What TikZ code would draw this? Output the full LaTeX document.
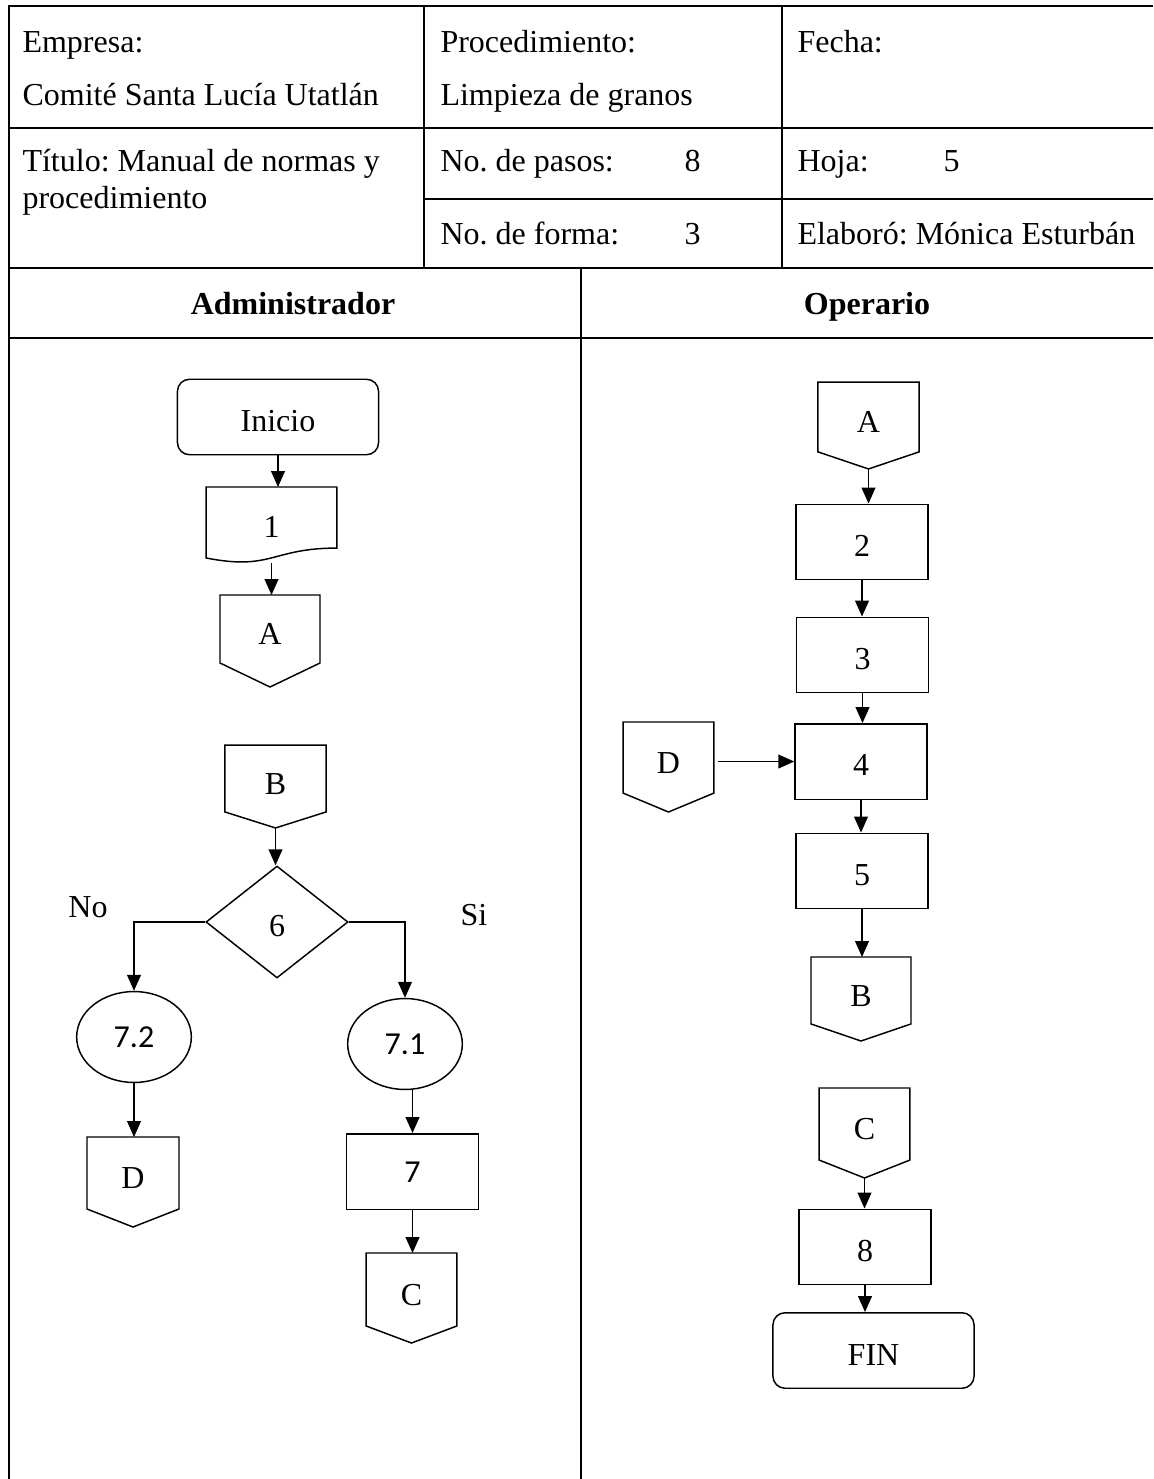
\documentclass[tikz,border=0pt]{standalone}
\usepackage{fontspec}
\setmainfont{Liberation Serif}
\newfontfamily\calibri{Carlito}
\usepackage{tikz}
\usetikzlibrary{arrows.meta,shapes.geometric}
\frenchspacing
\definecolor{pen}{RGB}{0,0,0}
\tikzset{
  txt/.style={font=\fontsize{12}{14}\selectfont, inner sep=0pt, text=pen},
  sanstxt/.style={font=\calibri\fontsize{12}{14}\selectfont},
  grid/.style={draw=pen, line width=0.8pt},
  startend/.style={draw=pen, rounded corners=4.5pt, minimum width=75.4pt,
    minimum height=28.3pt, inner sep=0pt, line width=0.55pt, txt,
    text height=11pt, text depth=0pt},
  procbox/.style={draw=pen, rectangle, minimum width=49.5pt, minimum height=28.3pt,
    inner sep=0pt, line width=0.55pt, txt, text height=10.5pt, text depth=0pt},
  decision/.style={draw=pen, diamond, minimum width=53.3pt, minimum height=42pt,
    inner sep=0pt, line width=0.55pt, txt, text height=11pt, text depth=0pt},
  oval/.style={draw=pen, ellipse, minimum width=43pt, minimum height=34.1pt,
    inner sep=0pt, line width=0.55pt, txt, sanstxt},
  docshape/.style={minimum width=49.1pt, minimum height=28.5pt, inner sep=0pt,
    outer sep=0pt, txt, text height=9.5pt, text depth=0pt,
    append after command={\pgfextra{\draw[draw=pen, line width=0.55pt]
      (\tikzlastnode.north west) -- (\tikzlastnode.north east)
      -- ([yshift=5.6pt]\tikzlastnode.south east)
      .. controls ([yshift=5.6pt]\tikzlastnode.south) and ([yshift=-3pt]\tikzlastnode.south)
      .. ([yshift=1.9pt]\tikzlastnode.south west) -- cycle;}}},
  offpage/.style n args={3}{minimum width=#1, minimum height=#2, inner sep=0pt,
    outer sep=0pt, txt, text height=11.75pt, text depth=#3,
    append after command={\pgfextra{\draw[draw=pen, line width=0.55pt, line join=miter]
      (\tikzlastnode.north west) -- (\tikzlastnode.north east)
      -- ([yshift=#3]\tikzlastnode.south east) -- (\tikzlastnode.south)
      -- ([yshift=#3]\tikzlastnode.south west) -- cycle;}}},
  flow/.style={-{Triangle[length=6pt,width=5.2pt]}, draw=pen, line width=0.55pt},
}

\begin{document}
\begin{tikzpicture}[x=0.375pt, y=-0.375pt]
  \useasboundingbox (0,0) rectangle (1153,1479);
  % table frame
  \draw[grid] (9,1479) -- (9,6) -- (1153,6);
  \draw[grid] (9,128) -- (1153,128);
  \draw[grid] (424,199) -- (1153,199);
  \draw[grid] (9,268) -- (1153,268);
  \draw[grid] (9,338) -- (1153,338);
  \draw[grid] (424,6) -- (424,268);
  \draw[grid] (782,6) -- (782,268);
  \draw[grid] (581,268) -- (581,1479);

  % header
  \node[txt, anchor=base west] (emp) at (22,53) {Empresa:};
  \node[txt, anchor=base west] (comite) at (22,106) {Comité Santa Lucía Utatlán};
  \node[txt, anchor=base west] (proc) at (440,53) {Procedimiento:};
  \node[txt, anchor=base west] (limp) at (440,106) {Limpieza de granos};
  \node[txt, anchor=base west] (fecha) at (797,53) {Fecha:};
  \node[txt, anchor=base west] (tit1) at (22,172) {Título: Manual de normas y};
  \node[txt, anchor=base west] (tit2) at (22,209) {procedimiento};
  \node[txt, anchor=base west] (pasos) at (440,172) {No. de pasos:};
  \node[txt, anchor=base west] (npasos) at (684,172) {8};
  \node[txt, anchor=base west] (hoja) at (797,172) {Hoja:};
  \node[txt, anchor=base west] (nhoja) at (943,172) {5};
  \node[txt, anchor=base west] (forma) at (440,245) {No. de forma:};
  \node[txt, anchor=base west] (nforma) at (684,245) {3};
  \node[txt, anchor=base west] (elab) at (797,245) {Elaboró: Mónica Esturbán};
  \node[txt, anchor=base, font=\fontsize{12}{14}\selectfont\bfseries] (admin) at (293,315) {Administrador};
  \node[txt, anchor=base, font=\fontsize{12}{14}\selectfont\bfseries] (oper) at (867,315) {Operario};

  % Administrador
  \node[startend] (ini) at (278,417) {Inicio};
  \node[docshape] (d1) at (271.5,525) {1};
  \node[offpage={37.5pt}{34.5pt}{9pt}] (conA1) at (270,641) {A};
  \node[offpage={37.9pt}{31.1pt}{6pt}] (conB1) at (275.5,786.5) {B};
  \node[decision] (q6) at (277,922) {6};
  \node[txt] (lno) at (88,907) {No};
  \node[txt] (lsi) at (474,915) {Si};
  \node[oval] (e72) at (134,1037) {7.2};
  \node[oval] (e71) at (405,1044) {7.1};
  \node[offpage={34.5pt}{33.75pt}{6.75pt}] (conD1) at (133,1182) {D};
  \node[procbox, sanstxt, text height=8pt] (p7) at (412.5,1171.5) {7};
  \node[offpage={34.1pt}{33.75pt}{6.4pt}] (conC1) at (411.5,1298) {C};

  % Operario
  \node[offpage={37.9pt}{32.6pt}{6.4pt}] (conA2) at (868.5,425.5) {A};
  \node[procbox] (p2) at (862,542) {2};
  \node[procbox] (p3) at (862.5,655) {3};
  \node[procbox] (p4) at (861,761.5) {4};
  \node[offpage={34.1pt}{33.75pt}{7.1pt}] (conD2) at (668.5,767) {D};
  \node[procbox] (p5) at (862,871) {5};
  \node[offpage={37.5pt}{31.5pt}{6.4pt}] (conB2) at (861,999) {B};
  \node[offpage={34.1pt}{33.75pt}{6.75pt}] (conC2) at (864.5,1133) {C};
  \node[procbox] (p8) at (865,1247) {8};
  \node[startend] (fin) at (873.5,1350.5) {FIN};

  \draw[flow] (ini.south) -- (ini.south |- d1.north);
  \draw[flow] (d1.south) -- (d1.south |- conA1.north);
  \draw[flow] (conB1.south) -- (conB1.south |- q6.north);
  \draw[flow] (q6.west) -| (e72.north);
  \draw[flow] (q6.east) -| (e71.north);
  \draw[flow] (e72.south) -- (e72.south |- conD1.north);
  \draw[flow] (e71.south -| p7.north) -- (p7.north);
  \draw[flow] (p7.south) -- (p7.south |- conC1.north);

  \draw[flow] (conA2.south) -- (conA2.south |- p2.north);
  \draw[flow] (p2.south) -- (p2.south |- p3.north);
  \draw[flow] (p3.south) -- (p3.south |- p4.north);
  \draw[flow, shorten <=1.5pt] (conD2.east |- p4.west) -- (p4.west);
  \draw[flow] (p4.south) -- (p4.south |- p5.north);
  \draw[flow] (p5.south) -- (p5.south |- conB2.north);
  \draw[flow] (conC2.south) -- (conC2.south |- p8.north);
  \draw[flow] (p8.south) -- (p8.south |- fin.north);
\end{tikzpicture}
\end{document}
